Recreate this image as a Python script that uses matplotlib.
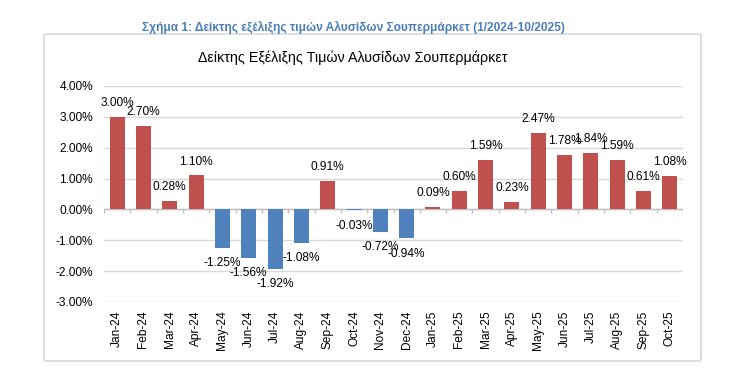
import matplotlib
matplotlib.use('Agg')
import matplotlib.pyplot as plt
from matplotlib.patches import FancyBboxPatch
import numpy as np

months = ['Jan-24', 'Feb-24', 'Mar-24', 'Apr-24', 'May-24', 'Jun-24', 'Jul-24',
          'Aug-24', 'Sep-24', 'Oct-24', 'Nov-24', 'Dec-24', 'Jan-25', 'Feb-25',
          'Mar-25', 'Apr-25', 'May-25', 'Jun-25', 'Jul-25', 'Aug-25', 'Sep-25',
          'Oct-25']
changes = [3.00, 2.70, 0.28, 1.10, -1.25, -1.56, -1.92, -1.08, 0.91, -0.03,
           -0.72, -0.94, 0.09, 0.60, 1.59, 0.23, 2.47, 1.78, 1.84, 1.59, 0.61,
           1.08]
y_ticks = [4, 3, 2, 1, 0, -1, -2, -3]

header = 'Σχήμα 1: Δείκτης εξέλιξης τιμών Αλυσίδων Σουπερμάρκετ (1/2024-10/2025)'
title = 'Δείκτης Εξέλιξης Τιμών Αλυσίδων Σουπερμάρκετ'

RED = '#C0504D'
BLUE = '#4F81BD'
GRID = '#D9D9D9'

plt.rcParams['font.family'] = ['Liberation Sans', 'DejaVu Sans']

fig = plt.figure(figsize=(7.55, 3.77), dpi=100)

# outer chart frame
frame = FancyBboxPatch((44 / 755, 1 - 361 / 377), (701 - 44) / 755, (361 - 34) / 377,
                       boxstyle='round,pad=0,rounding_size=0.004',
                       transform=fig.transFigure, facecolor='none',
                       edgecolor='#D9D9D9', linewidth=1.2, zorder=-1)
fig.patches.append(frame)

fig.text(353 / 755, 1 - 27 / 377, header, ha='center', va='center',
         fontsize=8.6, fontweight='bold', color='#4A7EBB')
fig.text(353 / 755, 1 - 58 / 377, title, ha='center', va='center',
         fontsize=10.3, color='black')

ax = fig.add_axes([104 / 755, 1 - 302 / 377, (683 - 104) / 755, (302 - 86) / 377])
ax.patch.set_alpha(0)
x = np.arange(len(months))
colors = [RED if v >= 0 else BLUE for v in changes]
ax.bar(x, changes, width=0.57, color=colors, zorder=3)

for xi, v in zip(x, changes):
    off = 10 if v >= 0 else -11
    ax.annotate(f'{v:.2f}%', (xi, v), xytext=(0, off), textcoords='offset points',
                ha='center', va='center', fontsize=8.6, color='black', zorder=4)

ax.set_xlim(-0.5, len(months) - 0.5)
ax.set_ylim(-3, 4)
ax.set_yticks(y_ticks)
ax.set_yticklabels([f'{t:.2f}%' for t in y_ticks])
ax.set_xticks(x)
ax.set_xticklabels(months, rotation=90)
ax.tick_params(axis='y', length=0, pad=8, labelsize=8.6)
ax.tick_params(axis='x', length=0, pad=6, labelsize=8.6)
ax.grid(axis='y', color=GRID, linewidth=1, zorder=0)
for s in ax.spines.values():
    s.set_visible(False)

# category axis at zero with boundary ticks
ax.axhline(0, color='#BFBFBF', linewidth=1, zorder=2)
bounds = np.arange(len(months) + 1) - 0.5
ax.vlines(bounds, -0.1, 0, color='#BFBFBF', linewidth=1, zorder=2)

fig.savefig('out.png', dpi=100)
